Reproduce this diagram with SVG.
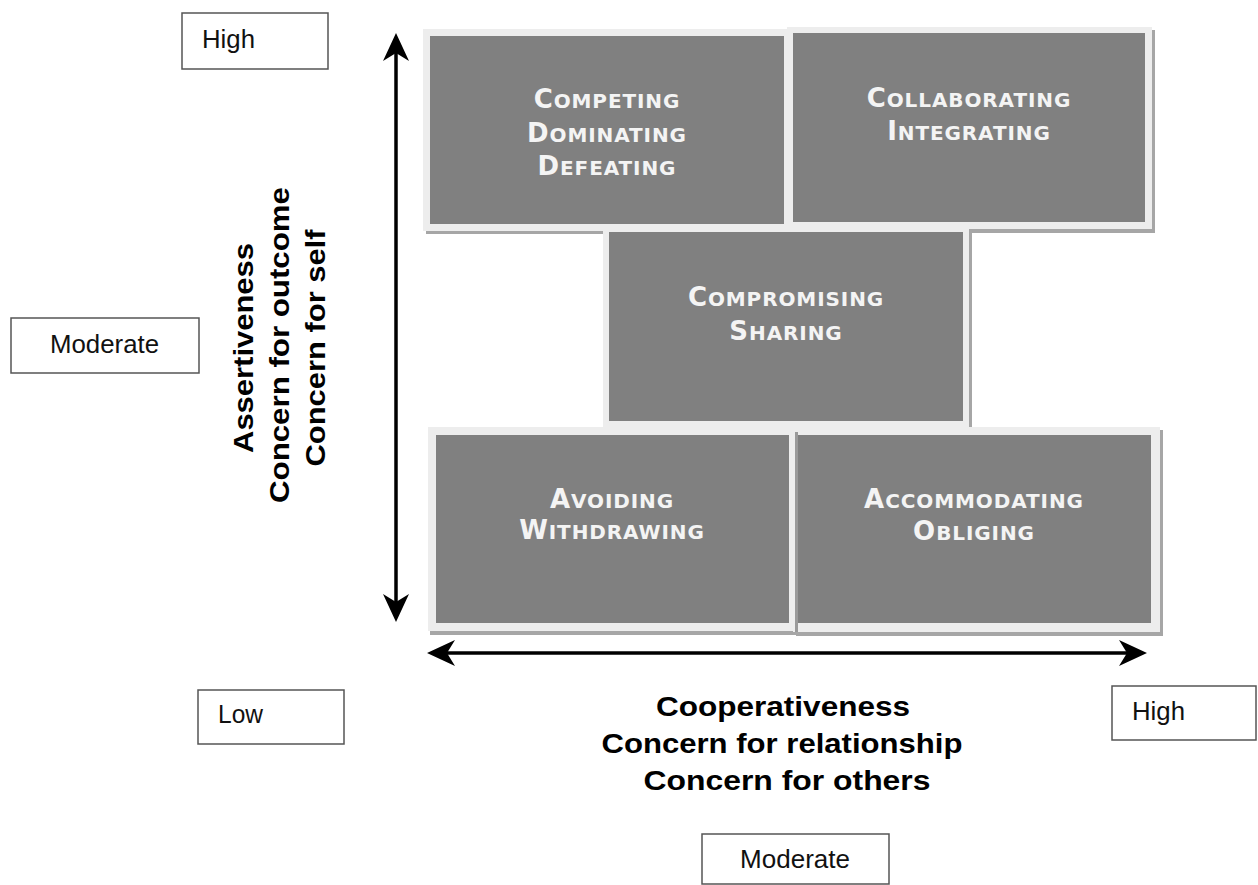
<svg xmlns="http://www.w3.org/2000/svg" width="1258" height="885" viewBox="0 0 1258 885">
<style>
.shadow{fill:#a6a6a6}
.frame{fill:#ededed}
.inner{fill:#808080}
.bt{font-family:"DejaVu Sans",Verdana,sans-serif;font-weight:bold;fill:#f4f4f4;text-anchor:middle;letter-spacing:0.9px}
.cap{font-size:26px}
.sc{font-size:20px}
.lbl rect{fill:#fff;stroke:#555;stroke-width:1.5}
.lbl text{font-family:"Liberation Sans",Arial,sans-serif;font-size:25px;fill:#111}
.title{font-family:"Liberation Sans",Arial,sans-serif;font-weight:bold;font-size:28px;fill:#000;text-anchor:middle}
.axis{stroke:#000;stroke-width:3.5;fill:none}
</style>
<defs>
<marker id="ah" viewBox="0 0 28 26" refX="20" refY="13" markerWidth="28" markerHeight="26" markerUnits="userSpaceOnUse" orient="auto-start-reverse">
<path d="M0,0 L28,13 L0,26 L8,13 Z" fill="#000"/>
</marker>
</defs>
<rect width="1258" height="885" fill="#fff"/>

<g id="competing">
<rect class="shadow" x="426" y="32" width="367" height="202"/>
<rect class="frame" x="423" y="29" width="367" height="202"/>
<rect class="inner" x="430" y="36" width="354" height="188"/>
<text class="bt" x="607" y="108"><tspan class="cap">C</tspan><tspan class="sc">OMPETING</tspan></text>
<text class="bt" x="607" y="142"><tspan class="cap">D</tspan><tspan class="sc">OMINATING</tspan></text>
<text class="bt" x="607" y="175"><tspan class="cap">D</tspan><tspan class="sc">EFEATING</tspan></text>
</g>

<g id="collaborating">
<rect class="shadow" x="790" y="30" width="365" height="203"/>
<rect class="frame" x="787" y="27" width="365" height="202"/>
<rect class="inner" x="793" y="33" width="352" height="189"/>
<text class="bt" x="969" y="107"><tspan class="cap">C</tspan><tspan class="sc">OLLABORATING</tspan></text>
<text class="bt" x="969" y="140"><tspan class="cap">I</tspan><tspan class="sc">NTEGRATING</tspan></text>
</g>

<g id="compromising">
<rect class="shadow" x="606" y="230" width="366" height="200"/>
<rect class="frame" x="603" y="227" width="366" height="200"/>
<rect class="inner" x="609" y="232" width="354" height="189"/>
<text class="bt" x="786" y="306"><tspan class="cap">C</tspan><tspan class="sc">OMPROMISING</tspan></text>
<text class="bt" x="786" y="340"><tspan class="cap">S</tspan><tspan class="sc">HARING</tspan></text>
</g>

<g id="avoiding">
<rect class="shadow" x="430" y="430" width="368" height="205"/>
<rect class="frame" x="428" y="427" width="368" height="204"/>
<rect class="inner" x="436" y="435" width="353" height="188"/>
<text class="bt" x="612" y="508"><tspan class="cap">A</tspan><tspan class="sc">VOIDING</tspan></text>
<text class="bt" x="612" y="539"><tspan class="cap">W</tspan><tspan class="sc">ITHDRAWING</tspan></text>
</g>

<g id="accommodating">
<rect class="shadow" x="796" y="430" width="367" height="206"/>
<rect class="frame" x="793" y="427" width="367" height="205"/>
<rect fill="#9a9a9a" x="795" y="432" width="3" height="200"/>
<rect class="inner" x="798" y="435" width="353" height="188"/>
<text class="bt" x="974" y="508"><tspan class="cap">A</tspan><tspan class="sc">CCOMMODATING</tspan></text>
<text class="bt" x="974" y="540"><tspan class="cap">O</tspan><tspan class="sc">BLIGING</tspan></text>
</g>

<g id="connectors">
<line class="axis" x1="396" y1="41" x2="396" y2="614" marker-start="url(#ah)" marker-end="url(#ah)"/>
<line class="axis" x1="435" y1="653" x2="1139" y2="653" marker-start="url(#ah)" marker-end="url(#ah)"/>
</g>

<g id="label-high-top" class="lbl">
<rect x="182" y="13" width="146" height="56"/>
<text x="202" y="48" textLength="53" lengthAdjust="spacingAndGlyphs">High</text>
</g>
<g id="label-moderate-left" class="lbl">
<rect x="11" y="318" width="188" height="55"/>
<text x="50" y="353" textLength="109" lengthAdjust="spacingAndGlyphs">Moderate</text>
</g>
<g id="label-low" class="lbl">
<rect x="198" y="690" width="146" height="54"/>
<text x="218" y="723" textLength="45" lengthAdjust="spacingAndGlyphs">Low</text>
</g>
<g id="label-high-right" class="lbl">
<rect x="1112" y="686" width="144" height="54"/>
<text x="1132" y="720" textLength="53" lengthAdjust="spacingAndGlyphs">High</text>
</g>
<g id="label-moderate-bottom" class="lbl">
<rect x="702" y="834" width="187" height="50"/>
<text x="740" y="868" textLength="110" lengthAdjust="spacingAndGlyphs">Moderate</text>
</g>

<g id="title-horizontal">
<text class="title" x="783" y="716" textLength="254" lengthAdjust="spacingAndGlyphs">Cooperativeness</text>
<text class="title" x="782" y="753" textLength="361" lengthAdjust="spacingAndGlyphs">Concern for relationship</text>
<text class="title" x="787" y="790" textLength="287" lengthAdjust="spacingAndGlyphs">Concern for others</text>
</g>

<g id="title-vertical">
<text class="title" transform="translate(253,348) rotate(-90)" textLength="210" lengthAdjust="spacingAndGlyphs">Assertiveness</text>
<text class="title" transform="translate(289,345) rotate(-90)" textLength="316" lengthAdjust="spacingAndGlyphs">Concern for outcome</text>
<text class="title" transform="translate(325,348) rotate(-90)" textLength="237" lengthAdjust="spacingAndGlyphs">Concern for self</text>
</g>
</svg>
